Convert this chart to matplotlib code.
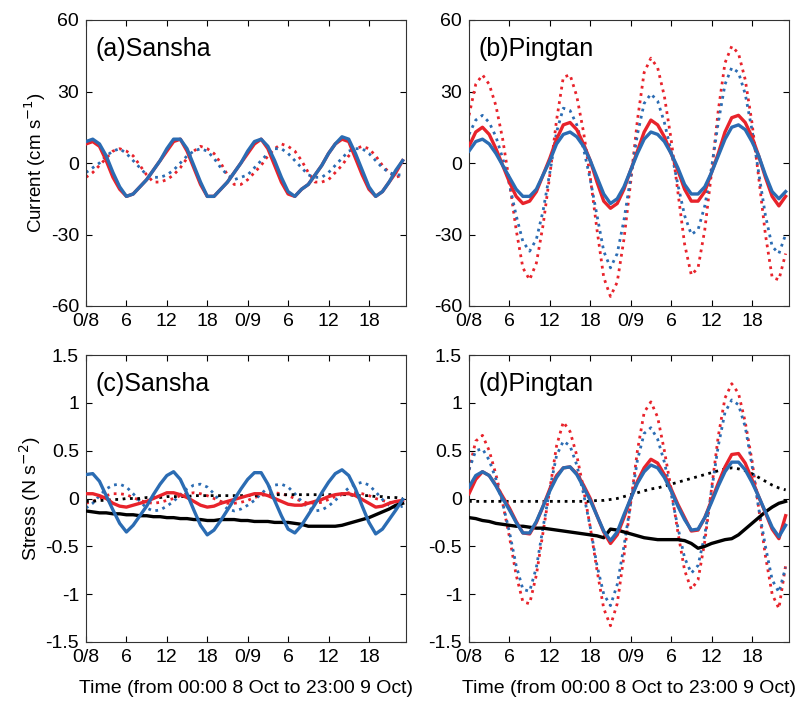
import numpy as np
import matplotlib
matplotlib.use('Agg')
import matplotlib.pyplot as plt

plt.rcParams['font.family'] = ['Liberation Sans', 'DejaVu Sans']
plt.rcParams['axes.unicode_minus'] = False

RED = '#e8232b'
BLUE = '#2b6cb3'

# hourly samples, 00:00 8 Oct .. 23:00 9 Oct
hours = np.arange(48)
tick_pos = [0, 6, 12, 18, 24, 30, 36, 42]
tick_lab = ['0/8', '6', '12', '18', '0/9', '6', '12', '18']

# current (cm/s), Sansha
sansha_cur_red = [8, 9, 7, 1, -6, -11, -14, -13, -10, -7, -3, 1, 5, 9, 10, 5, -2, -9, -14, -14,
                  -11, -8, -4, 0, 4, 8, 10, 6, -1, -8, -13, -14, -11, -9, -5, -1, 4, 8, 10, 9,
                  2, -5, -11, -14, -12, -8, -4, 1]
sansha_cur_blue = [9, 10, 8, 3, -4, -10, -14, -13, -10, -7, -3, 1, 6, 10, 10, 6, -1, -8, -14, -14,
                   -11, -8, -4, 0, 5, 9, 10, 7, 1, -6, -12, -14, -11, -9, -5, -1, 4, 8, 11, 10,
                   4, -3, -10, -14, -12, -8, -3, 1]
sansha_cur_red_dot = [-6, -4, -1, 2, 5, 6, 5, 3, -1, -5, -8, -8, -7, -5, -2, 2, 5, 7, 6, 4,
                      0, -5, -9, -9, -7, -4, -1, 3, 6, 8, 7, 5, 1, -4, -8, -8, -7, -4, -1, 3,
                      6, 7, 6, 3, -1, -4, -6, -5]
sansha_cur_blue_dot = [-4, -2, 0, 3, 5, 6, 4, 1, -2, -5, -6, -6, -5, -3, 0, 3, 5, 6, 5, 2,
                       -2, -5, -7, -6, -5, -2, 1, 4, 6, 6, 4, 1, -2, -5, -6, -6, -4, -1, 2, 5,
                       6, 6, 4, 1, -2, -4, -5, -5]

# current (cm/s), Pingtan
pingtan_cur_red = [7, 13, 15, 12, 6, -1, -8, -14, -17, -16, -12, -5, 2, 10, 16, 17, 14, 8, 1, -8,
                   -16, -19, -17, -11, -3, 5, 13, 18, 16, 11, 4, -3, -11, -16, -16, -12, -4, 4, 13, 19,
                   20, 17, 11, 3, -6, -14, -18, -14]
pingtan_cur_blue = [5, 9, 10, 8, 4, -1, -6, -11, -14, -14, -11, -5, 1, 8, 12, 13, 11, 7, 1, -6,
                    -13, -17, -15, -10, -3, 4, 10, 13, 12, 9, 4, -2, -9, -13, -13, -10, -4, 3, 10, 15,
                    16, 14, 9, 3, -5, -12, -15, -12]
pingtan_cur_red_dot = [20, 33, 37, 33, 24, 10, -8, -28, -44, -49, -42, -26, -5, 18, 36, 37, 28, 13, -6, -28,
                       -48, -56, -50, -32, -8, 18, 38, 44, 40, 28, 10, -12, -34, -47, -44, -28, -4, 22, 42, 49,
                       46, 35, 17, -6, -30, -48, -49, -38]
pingtan_cur_blue_dot = [12, 18, 20, 17, 11, 2, -9, -22, -33, -37, -32, -20, -4, 13, 23, 22, 16, 6, -7, -22,
                        -37, -44, -38, -24, -6, 12, 25, 29, 26, 17, 5, -9, -22, -30, -28, -18, -2, 17, 33, 40,
                        38, 29, 14, -4, -22, -35, -38, -30]

# stress, Sansha
sansha_str_red = [0.05, 0.05, 0.03, 0.0, -0.05, -0.08, -0.09, -0.07, -0.05, -0.03, 0.0, 0.03, 0.06, 0.06,
                  0.04, 0.01, -0.03, -0.07, -0.09, -0.08, -0.05, -0.03, -0.01, 0.01, 0.03, 0.05, 0.05,
                  0.03, 0.0, -0.03, -0.06, -0.07, -0.07, -0.05, -0.03, -0.01, 0.02, 0.04, 0.05, 0.05,
                  0.03, -0.01, -0.05, -0.09, -0.08, -0.05, -0.03, -0.02]
sansha_str_blue = [0.25, 0.26, 0.18, 0.03, -0.12, -0.26, -0.35, -0.28, -0.18, -0.08, 0.04, 0.15, 0.24, 0.28,
                   0.2, 0.05, -0.12, -0.28, -0.38, -0.33, -0.23, -0.12, -0.01, 0.1, 0.2, 0.27, 0.27,
                   0.15, -0.02, -0.18, -0.32, -0.36, -0.28, -0.17, -0.06, 0.06, 0.17, 0.26, 0.3, 0.24,
                   0.1, -0.08, -0.25, -0.37, -0.32, -0.22, -0.12, -0.01]
sansha_str_red_dot = [-0.05, -0.03, 0.0, 0.03, 0.05, 0.05, 0.04, 0.01, -0.02, -0.04, -0.05, -0.04, -0.02, 0.0,
                      0.03, 0.05, 0.06, 0.05, 0.03, 0.0, -0.03, -0.05, -0.05, -0.04, -0.02, 0.01, 0.03,
                      0.05, 0.06, 0.05, 0.03, 0.0, -0.03, -0.05, -0.05, -0.04, -0.01, 0.02, 0.04, 0.06,
                      0.06, 0.05, 0.03, 0.0, -0.02, -0.04, -0.04, -0.03]
sansha_str_blue_dot = [-0.1, -0.05, 0.03, 0.1, 0.14, 0.15, 0.12, 0.05, -0.03, -0.1, -0.13, -0.12, -0.08, -0.03,
                       0.04, 0.1, 0.14, 0.15, 0.12, 0.05, -0.04, -0.11, -0.13, -0.11, -0.07, -0.02, 0.05,
                       0.11, 0.14, 0.15, 0.12, 0.05, -0.03, -0.1, -0.13, -0.12, -0.08, -0.02, 0.05, 0.11,
                       0.15, 0.17, 0.14, 0.07, -0.01, -0.07, -0.1, -0.08]
sansha_str_black = [-0.13, -0.14, -0.15, -0.15, -0.16, -0.16, -0.17, -0.17, -0.18, -0.18, -0.19, -0.19,
                    -0.2, -0.2, -0.21, -0.21, -0.22, -0.22, -0.23, -0.23, -0.22, -0.22, -0.22, -0.23,
                    -0.23, -0.24, -0.24, -0.24, -0.25, -0.25, -0.25, -0.26, -0.27, -0.29, -0.29, -0.29,
                    -0.29, -0.29, -0.28, -0.26, -0.24, -0.22, -0.2, -0.17, -0.14, -0.11, -0.07, -0.05]
sansha_str_black_dot = [-0.03, -0.03, -0.02, -0.02, -0.01, -0.01, 0.0, 0.0, 0.0, 0.01, 0.01, 0.01,
                        0.02, 0.02, 0.02, 0.02, 0.03, 0.03, 0.03, 0.03, 0.03, 0.03, 0.03, 0.03,
                        0.03, 0.03, 0.04, 0.04, 0.04, 0.04, 0.04, 0.04, 0.04, 0.04, 0.04, 0.04,
                        0.04, 0.04, 0.04, 0.04, 0.03, 0.03, 0.03, 0.02, 0.02, 0.01, 0.01, 0.0]

# stress, Pingtan
pingtan_str_red = [0.05, 0.2, 0.28, 0.24, 0.14, 0.02, -0.1, -0.24, -0.36, -0.37, -0.25, -0.08, 0.1, 0.24,
                   0.32, 0.33, 0.26, 0.14, 0.0, -0.18, -0.35, -0.47, -0.38, -0.2, 0.0, 0.18, 0.32,
                   0.41, 0.37, 0.25, 0.1, -0.06, -0.2, -0.34, -0.33, -0.2, -0.02, 0.16, 0.33, 0.46,
                   0.47, 0.37, 0.2, 0.02, -0.15, -0.32, -0.42, -0.18]
pingtan_str_blue = [0.12, 0.24, 0.28, 0.24, 0.13, 0.0, -0.12, -0.25, -0.36, -0.36, -0.24, -0.08, 0.08, 0.22,
                    0.32, 0.33, 0.25, 0.12, -0.02, -0.18, -0.34, -0.44, -0.35, -0.17, 0.0, 0.16, 0.28,
                    0.35, 0.32, 0.22, 0.08, -0.08, -0.22, -0.33, -0.32, -0.2, -0.04, 0.13, 0.28, 0.38,
                    0.38, 0.3, 0.17, 0.02, -0.14, -0.3, -0.4, -0.28]
pingtan_str_red_dot = [0.3, 0.6, 0.66, 0.5, 0.25, -0.05, -0.4, -0.8, -1.08, -1.1, -0.8, -0.35, 0.1, 0.55,
                       0.8, 0.7, 0.45, 0.1, -0.3, -0.75, -1.15, -1.33, -1.1, -0.6, -0.05, 0.5, 0.9,
                       1.01, 0.85, 0.5, 0.1, -0.35, -0.75, -0.95, -0.85, -0.45, 0.1, 0.65, 1.05, 1.2,
                       1.1, 0.8, 0.4, -0.1, -0.6, -1.0, -1.15, -0.7]
pingtan_str_blue_dot = [0.3, 0.5, 0.52, 0.4, 0.2, -0.05, -0.35, -0.7, -0.95, -0.97, -0.72, -0.3, 0.1, 0.45,
                        0.6, 0.55, 0.35, 0.05, -0.3, -0.7, -1.0, -1.12, -0.9, -0.5, -0.05, 0.4, 0.68,
                        0.74, 0.62, 0.38, 0.05, -0.3, -0.62, -0.78, -0.7, -0.38, 0.08, 0.55, 0.9, 1.03,
                        0.98, 0.75, 0.35, -0.1, -0.5, -0.85, -0.98, -0.72]
pingtan_str_black = [-0.2, -0.21, -0.23, -0.24, -0.26, -0.27, -0.28, -0.29, -0.29, -0.3, -0.31, -0.31,
                     -0.32, -0.33, -0.34, -0.35, -0.36, -0.37, -0.38, -0.39, -0.41, -0.32, -0.33, -0.35,
                     -0.37, -0.39, -0.41, -0.42, -0.43, -0.43, -0.43, -0.43, -0.44, -0.47, -0.52, -0.5,
                     -0.47, -0.45, -0.43, -0.42, -0.38, -0.32, -0.26, -0.2, -0.14, -0.09, -0.05, -0.03]
pingtan_str_black_dot = [-0.03, -0.03, -0.03, -0.03, -0.03, -0.03, -0.03, -0.03, -0.03, -0.03, -0.03, -0.03,
                         -0.03, -0.03, -0.03, -0.03, -0.03, -0.03, -0.03, -0.02, -0.02, -0.01, 0.0, 0.02,
                         0.04, 0.06, 0.08, 0.1, 0.11, 0.13, 0.15, 0.17, 0.19, 0.21, 0.23, 0.25,
                         0.27, 0.29, 0.31, 0.32, 0.31, 0.29, 0.26, 0.22, 0.18, 0.14, 0.11, 0.09]


def draw_panel(ax, series, label, ylim, yticks, yticklabels):
    # dotted lines underneath, solid on top
    for values, color, ls in series:
        if ls == ':':
            ax.plot(hours, values, color=color, ls=':', lw=2.0, zorder=2)
    for values, color, ls in series:
        if ls == '-':
            ax.plot(hours, values, color=color, ls='-', lw=2.4, zorder=3)
    ax.set_xlim(0, 47.5)
    ax.set_ylim(*ylim)
    ax.set_xticks(tick_pos)
    ax.set_xticklabels(tick_lab)
    ax.set_yticks(yticks)
    ax.set_yticklabels(yticklabels)
    ax.tick_params(direction='in', top=True, right=True, labelsize=14, length=4, width=0.8, pad=5)
    for sp in ax.spines.values():
        sp.set_linewidth(0.8)
        sp.set_color('#333333')
    ax.text(0.03, 0.94, label, transform=ax.transAxes, fontsize=18, va='top', ha='left')


fig = plt.figure(figsize=(8.01, 7.05), dpi=100)
w = 320 / 801
ax_a = fig.add_axes([86 / 801, 1 - 306 / 705, w, 286 / 705])
ax_b = fig.add_axes([469 / 801, 1 - 306 / 705, w, 286 / 705])
ax_c = fig.add_axes([86 / 801, 1 - 642 / 705, w, 287 / 705])
ax_d = fig.add_axes([469 / 801, 1 - 642 / 705, w, 287 / 705])

cur_ticks = [-60, -30, 0, 30, 60]
cur_labels = ['-60', '-30', '0', '30', '60']
str_ticks = [-1.5, -1, -0.5, 0, 0.5, 1, 1.5]
str_labels = ['-1.5', '-1', '-0.5', '0', '0.5', '1', '1.5']

draw_panel(ax_a, [(sansha_cur_red_dot, RED, ':'), (sansha_cur_blue_dot, BLUE, ':'),
                  (sansha_cur_red, RED, '-'), (sansha_cur_blue, BLUE, '-')],
           '(a)Sansha', (-60, 60), cur_ticks, cur_labels)
draw_panel(ax_b, [(pingtan_cur_red_dot, RED, ':'), (pingtan_cur_blue_dot, BLUE, ':'),
                  (pingtan_cur_red, RED, '-'), (pingtan_cur_blue, BLUE, '-')],
           '(b)Pingtan', (-60, 60), cur_ticks, cur_labels)
draw_panel(ax_c, [(sansha_str_red_dot, RED, ':'), (sansha_str_blue_dot, BLUE, ':'),
                  (sansha_str_black_dot, 'black', ':'), (sansha_str_black, 'black', '-'),
                  (sansha_str_red, RED, '-'), (sansha_str_blue, BLUE, '-')],
           '(c)Sansha', (-1.5, 1.5), str_ticks, str_labels)
draw_panel(ax_d, [(pingtan_str_red_dot, RED, ':'), (pingtan_str_blue_dot, BLUE, ':'),
                  (pingtan_str_black_dot, 'black', ':'), (pingtan_str_black, 'black', '-'),
                  (pingtan_str_red, RED, '-'), (pingtan_str_blue, BLUE, '-')],
           '(d)Pingtan', (-1.5, 1.5), str_ticks, str_labels)

ax_a.set_ylabel('Current (cm s$^{-1}$)', fontsize=13.5, labelpad=2)
ax_c.set_ylabel('Stress (N s$^{-2}$)', fontsize=14, labelpad=2)
xlab = 'Time (from 00:00 8 Oct to 23:00 9 Oct)'
ax_c.set_xlabel(xlab, fontsize=14, labelpad=10)
ax_d.set_xlabel(xlab, fontsize=14, labelpad=10)

fig.savefig('out.png', dpi=100)
